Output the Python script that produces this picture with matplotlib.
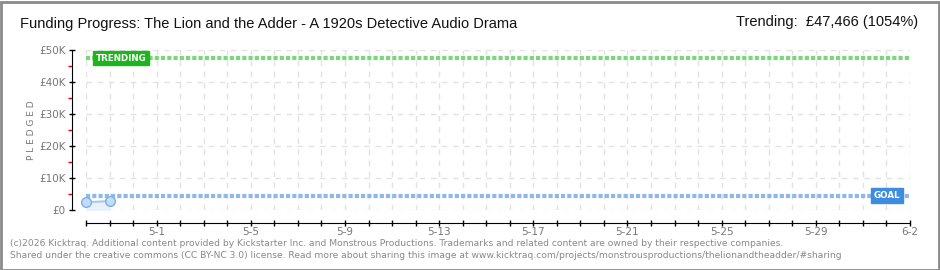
import matplotlib.pyplot as plt
from matplotlib.patches import Rectangle

# data (days counted from 4-28)
days = [0, 1]
pledged = [2400, 2800]
goal = 4500
trending = 47466
last_day = 35
xtick_days = [3, 7, 11, 15, 19, 23, 27, 31, 35]
xtick_labels = ['5-1', '5-5', '5-9', '5-13', '5-17', '5-21', '5-25', '5-29', '6-2']
ytick_vals = [0, 10000, 20000, 30000, 40000, 50000]
ytick_labels = ['£0', '£10K', '£20K', '£30K', '£40K', '£50K']

W, H = 940, 270
fig = plt.figure(figsize=(W / 100, H / 100), dpi=100)
fig.patch.set_facecolor('white')

# plot area in pixels: x 86..910, y 50..210
ax = fig.add_axes([86 / W, 1 - 210 / H, (910 - 86) / W, 160 / H])
ax.set_xlim(0, last_day)
ax.set_ylim(0, 50000)

for d in range(last_day + 1):
    ax.axvline(d, color='#e2e2e2', lw=1, ls=(0, (4, 4)), zorder=0)
for v in ytick_vals:
    ax.axhline(v, color='#e2e2e2', lw=1, ls=(0, (4, 4)), zorder=0)

# goal and trending lines
ax.plot([0, last_day], [goal, goal], color='#8db8e8', lw=3, ls=(0, (1, 0.5)),
        dash_capstyle='butt', zorder=2)
ax.plot([0, last_day], [trending, trending], color='#7cd67c', lw=3, ls=(0, (1, 0.5)),
        dash_capstyle='butt', zorder=2)

# pledged
ax.fill_between(days, pledged, 0, color='#e8f1fc', zorder=1)
ax.plot(days, pledged, color='#a8c8ee', lw=1.5, zorder=3)
ax.plot(days, pledged, 'o', ms=7, mfc='#c4dcf6', mec='#7faee6', mew=1, zorder=4, clip_on=False)

# labels on the lines
ax.text(0.4, trending, 'TRENDING', color='white', fontsize=6.3, fontweight='bold',
        ha='left', va='center', zorder=5,
        bbox=dict(boxstyle='square,pad=0.3', fc='#1db41d', ec='#1db41d'))
ax.text(33.45, goal, 'GOAL', color='white', fontsize=6.3, fontweight='bold',
        ha='left', va='center', zorder=5,
        bbox=dict(boxstyle='square,pad=0.3', fc='#3d8ce0', ec='#3d8ce0'))

# spines
for s in ['top', 'right']:
    ax.spines[s].set_visible(False)
ax.spines['left'].set_position(('outward', 10))
ax.spines['bottom'].set_position(('outward', 9))
ax.spines['left'].set_bounds(0, 50000)
ax.spines['bottom'].set_bounds(0, last_day)

ax.set_yticks(ytick_vals)
ax.set_yticklabels(ytick_labels)
ax.set_yticks([5000, 15000, 25000, 35000, 45000], minor=True)
ax.tick_params(axis='y', which='major', direction='inout', length=5, width=1,
               colors='black', labelcolor='#777777', labelsize=7.5, pad=2)
ax.tick_params(axis='y', which='minor', direction='out', length=3, width=1, color='#e00000')

ax.set_xticks(range(last_day + 1), minor=True)
ax.set_xticks(xtick_days)
ax.set_xticklabels(xtick_labels)
ax.tick_params(axis='x', which='both', direction='inout', length=5, width=1,
               colors='black', labelcolor='#777777', labelsize=7.5, pad=1)

fig.text(32 / W, 1 - 130 / H, 'P L E D G E D', rotation=90, fontsize=6.5, color='#777777',
         ha='center', va='center')

# titles
fig.text(20 / W, 1 - 24 / H, 'Funding Progress: The Lion and the Adder - A 1920s Detective Audio Drama',
         fontsize=10.5, family=['Liberation Sans', 'DejaVu Sans'], color='#111111',
         ha='left', va='center')
fig.text(918 / W, 1 - 22 / H, 'Trending:  £47,466 (1054%)',
         fontsize=10.5, family=['Liberation Sans', 'DejaVu Sans'], color='#111111',
         ha='right', va='center')

# footer
fig.text(10 / W, 1 - 243 / H,
         '(c)2026 Kicktraq. Additional content provided by Kickstarter Inc. and Monstrous Productions. '
         'Trademarks and related content are owned by their respective companies.',
         fontsize=6.6, color='#888888', ha='left', va='center')
fig.text(10 / W, 1 - 256 / H,
         'Shared under the creative commons (CC BY-NC 3.0) license. Read more about sharing this image at '
         'www.kicktraq.com/projects/monstrousproductions/thelionandtheadder/#sharing',
         fontsize=6.6, color='#888888', ha='left', va='center')

# outer frame
fig.patches.append(Rectangle((0.5 / W, 0.5 / H), 1 - 2 / W, 1 - 2 / H, transform=fig.transFigure,
                             fill=False, ec='#8a8a8a', lw=2))

fig.savefig('out.png', dpi=100)
